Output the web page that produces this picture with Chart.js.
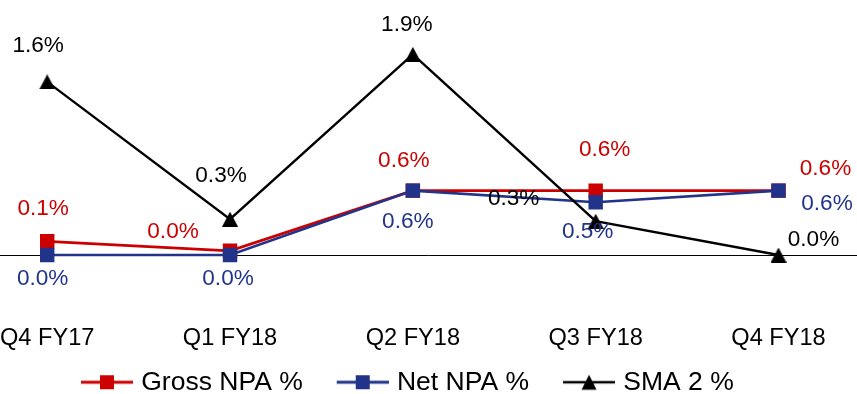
<!DOCTYPE html>
<html>
<head>
<meta charset="utf-8">
<script src="https://cdn.jsdelivr.net/npm/chart.js@4/dist/chart.umd.min.js"></script>
<style>
  html, body { margin: 0; padding: 0; background: #ffffff; }
  #wrap { width: 857px; height: 394px; }
</style>
</head>
<body>
<div id="wrap"><canvas id="npa" width="857" height="394"></canvas></div>
<script>
// Quarterly asset-quality ratios (%)
const quarters = ['Q4 FY17', 'Q1 FY18', 'Q2 FY18', 'Q3 FY18', 'Q4 FY18'];
const grossNpa = [0.13, 0.04, 0.61, 0.61, 0.61];
const netNpa   = [0.00, 0.00, 0.61, 0.50, 0.61];
const sma2     = [1.64, 0.34, 1.90, 0.32, 0.00];
const seriesNames = ['Gross NPA %', 'Net NPA %', 'SMA 2 %'];

// Where each value label sits relative to its point [dx, dy] in px
const grossLabelShift = [[-4, -33], [-57, -19], [-9, -29.5], [9, -41], [47, -22]];
const netLabelShift   = [[-4.5, 24], [-2, 24], [-5, 31], [-8, 30], [48.5, 13]];
const smaLabelShift   = [[-9, -36], [-9, -43.5], [-6, -29.5], [-82, -22.5], [35, -15]];

const RED = '#CC0000';
const BLUE = '#22348A';
const BLACK = '#000000';
const FONT = "'Liberation Sans', Arial, Helvetica, sans-serif";

// Triangle marker, centred on its bounding box
function triangleIcon(w, h, color) {
  const c = document.createElement('canvas');
  c.width = w; c.height = h;
  const g = c.getContext('2d');
  g.fillStyle = color;
  g.beginPath();
  g.moveTo(w / 2, 0);
  g.lineTo(w, h);
  g.lineTo(0, h);
  g.closePath();
  g.fill();
  return c;
}

// Legend swatch: a short line with the series marker on it
function legendIcon(color, marker, lineW) {
  const c = document.createElement('canvas');
  c.width = 72; c.height = 20;
  const g = c.getContext('2d');
  g.strokeStyle = color;
  g.lineWidth = lineW;
  g.beginPath();
  g.moveTo(20, 10);
  g.lineTo(72, 10);
  g.stroke();
  g.fillStyle = color;
  if (marker === 'square') {
    g.fillRect(46 - 7, 10 - 7, 14, 14);
  } else {
    g.beginPath();
    g.moveTo(46, 2.5);
    g.lineTo(53.5, 17.5);
    g.lineTo(38.5, 17.5);
    g.closePath();
    g.fill();
  }
  return c;
}

const smaMarker = triangleIcon(16, 15, BLACK);
const legendIcons = [
  legendIcon(RED, 'square', 3),
  legendIcon(BLUE, 'square', 3),
  legendIcon(BLACK, 'triangle', 2.5)
];
const labelShifts = [grossLabelShift, netLabelShift, smaLabelShift];

// Full-width baseline at 0%
const zeroLine = {
  id: 'zeroLine',
  beforeDatasetsDraw(chart) {
    const y = Math.round(chart.scales.y.getPixelForValue(0)) + 0.5;
    const ctx = chart.ctx;
    ctx.save();
    ctx.strokeStyle = '#000000';
    ctx.lineWidth = 1;
    ctx.beginPath();
    ctx.moveTo(0, y);
    ctx.lineTo(chart.width, y);
    ctx.stroke();
    ctx.restore();
  }
};

// Value labels next to each point
const valueLabels = {
  id: 'valueLabels',
  afterDatasetsDraw(chart) {
    const ctx = chart.ctx;
    ctx.save();
    ctx.font = '22.6px ' + FONT;
    ctx.textAlign = 'center';
    ctx.textBaseline = 'middle';
    chart.data.datasets.forEach((ds, di) => {
      const meta = chart.getDatasetMeta(di);
      ctx.fillStyle = ds.borderColor;
      meta.data.forEach((pt, i) => {
        const s = labelShifts[di][i];
        ctx.fillText(ds.data[i].toFixed(1) + '%', pt.x + s[0], pt.y + s[1]);
      });
    });
    ctx.restore();
  }
};

new Chart(document.getElementById('npa'), {
  type: 'line',
  data: {
    labels: quarters,
    datasets: [
      {
        label: seriesNames[0],
        data: grossNpa,
        borderColor: RED,
        backgroundColor: RED,
        borderWidth: 2.8,
        pointStyle: 'rect',
        pointRadius: 10.2,
        pointBorderWidth: 0,
        order: 2
      },
      {
        label: seriesNames[1],
        data: netNpa,
        borderColor: BLUE,
        backgroundColor: BLUE,
        borderWidth: 2.6,
        pointStyle: 'rect',
        pointRadius: 10.2,
        pointBorderWidth: 0,
        order: 1
      },
      {
        label: seriesNames[2],
        data: sma2,
        borderColor: BLACK,
        backgroundColor: BLACK,
        borderWidth: 2.4,
        pointStyle: smaMarker,
        pointRadius: 8,
        order: 0
      }
    ]
  },
  options: {
    responsive: false,
    animation: false,
    devicePixelRatio: 1,
    layout: { padding: { left: 47, right: 78.5, top: 12.2, bottom: -11.5 } },
    scales: {
      x: {
        offset: false,
        grid: { display: false, drawTicks: false },
        border: { display: false },
        ticks: {
          color: '#000000',
          padding: 0,
          autoSkip: false,
          maxRotation: 0,
          font: { family: FONT, size: 23.6, lineHeight: 1 }
        }
      },
      y: {
        display: false,
        min: -0.676,
        max: 2.3
      }
    },
    plugins: {
      tooltip: { enabled: false },
      legend: {
        position: 'bottom',
        align: 'start',
        labels: {
          usePointStyle: true,
          pointStyleWidth: 62,
          padding: 19,
          color: '#000000',
          font: { family: FONT, size: 26.5 },
          sort: (a, b) => a.datasetIndex - b.datasetIndex,
          generateLabels(chart) {
            const items = Chart.defaults.plugins.legend.labels.generateLabels(chart);
            items.forEach(it => { it.pointStyle = legendIcons[it.datasetIndex]; });
            return items;
          }
        }
      }
    }
  },
  plugins: [zeroLine, valueLabels]
});
</script>
</body>
</html>
